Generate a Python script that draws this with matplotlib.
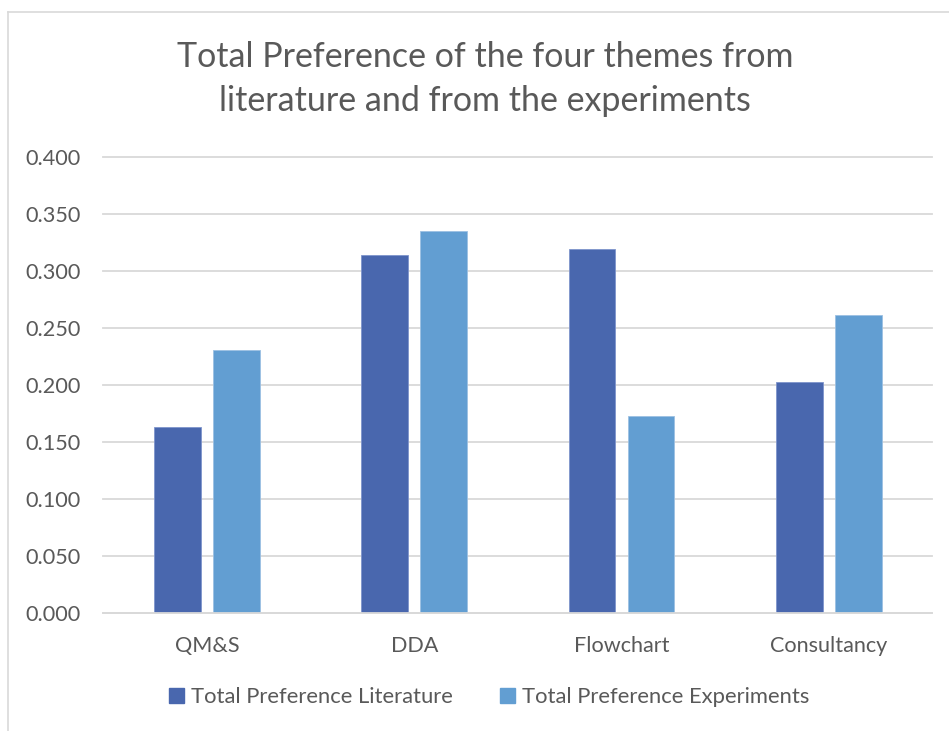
import numpy as np
import matplotlib.pyplot as plt
from matplotlib.lines import Line2D
from matplotlib.patches import Patch

# themes and the two preference totals
themes = ["QM&S", "DDA", "Flowchart", "Consultancy"]
pref_literature = [0.163, 0.314, 0.319, 0.203]
pref_experiments = [0.231, 0.335, 0.173, 0.261]
series_names = ["Total Preference Literature", "Total Preference Experiments"]
yticks = [0.0, 0.05, 0.10, 0.15, 0.20, 0.25, 0.30, 0.35, 0.40]

col_lit = "#4967AE"
col_exp = "#629ED2"
txt = "#595959"
grid_col = "#D9D9D9"

plt.rcParams["font.family"] = ["Lato", "DejaVu Sans"]

fig = plt.figure(figsize=(9.49, 7.31), dpi=100)
ax = fig.add_axes([0.1089, 0.161, 0.8736, 0.6247])

x = np.arange(len(themes))
w = 0.226
off = (w + 0.058) / 2
ax.bar(x - off, pref_literature, w, color=col_lit, edgecolor="#7F95CC",
       linewidth=0.6, zorder=3)
ax.bar(x + off, pref_experiments, w, color=col_exp, edgecolor="#9CC0E3",
       linewidth=0.6, zorder=3)

ax.set_xlim(-0.5, len(themes) - 0.5)
ax.set_ylim(0, 0.4)
ax.set_yticks(yticks)
ax.set_yticklabels([f"{v:.3f}" for v in yticks])
ax.set_xticks(x)
ax.set_xticklabels(themes)
ax.tick_params(axis="both", length=0, labelsize=15.6, colors=txt)
ax.tick_params(axis="y", pad=16.5)
ax.tick_params(axis="x", pad=16)

ax.grid(axis="y", color=grid_col, linewidth=1.3, zorder=0)
for gl in ax.get_ygridlines():
    gl.set_clip_on(False)
for s in ["top", "left", "right"]:
    ax.spines[s].set_visible(False)
ax.spines["bottom"].set_color(grid_col)
ax.spines["bottom"].set_linewidth(1.3)
ax.spines["bottom"].set_zorder(4)

fig.text(0.511, 0.892, "Total Preference of the four themes from\nliterature and from the experiments",
         ha="center", va="center", fontsize=24.5, color=txt, linespacing=1.45)

handles = [Patch(color=col_lit), Patch(color=col_exp)]
fig.legend(handles, series_names, loc="center", bbox_to_anchor=(0.5155, 0.046),
           ncol=2, frameon=False, fontsize=15.8, labelcolor=txt,
           handlelength=0.7, handleheight=0.7, handletextpad=0.3,
           columnspacing=2.15)

# outer chart frame
fig.add_artist(Line2D([8 / 949, 8 / 949], [0, 1 - 12 / 731], color=grid_col,
                      linewidth=1.2, transform=fig.transFigure))
fig.add_artist(Line2D([8 / 949, 1], [1 - 12 / 731, 1 - 12 / 731], color=grid_col,
                      linewidth=1.2, transform=fig.transFigure))

fig.savefig("out.png", dpi=100)
